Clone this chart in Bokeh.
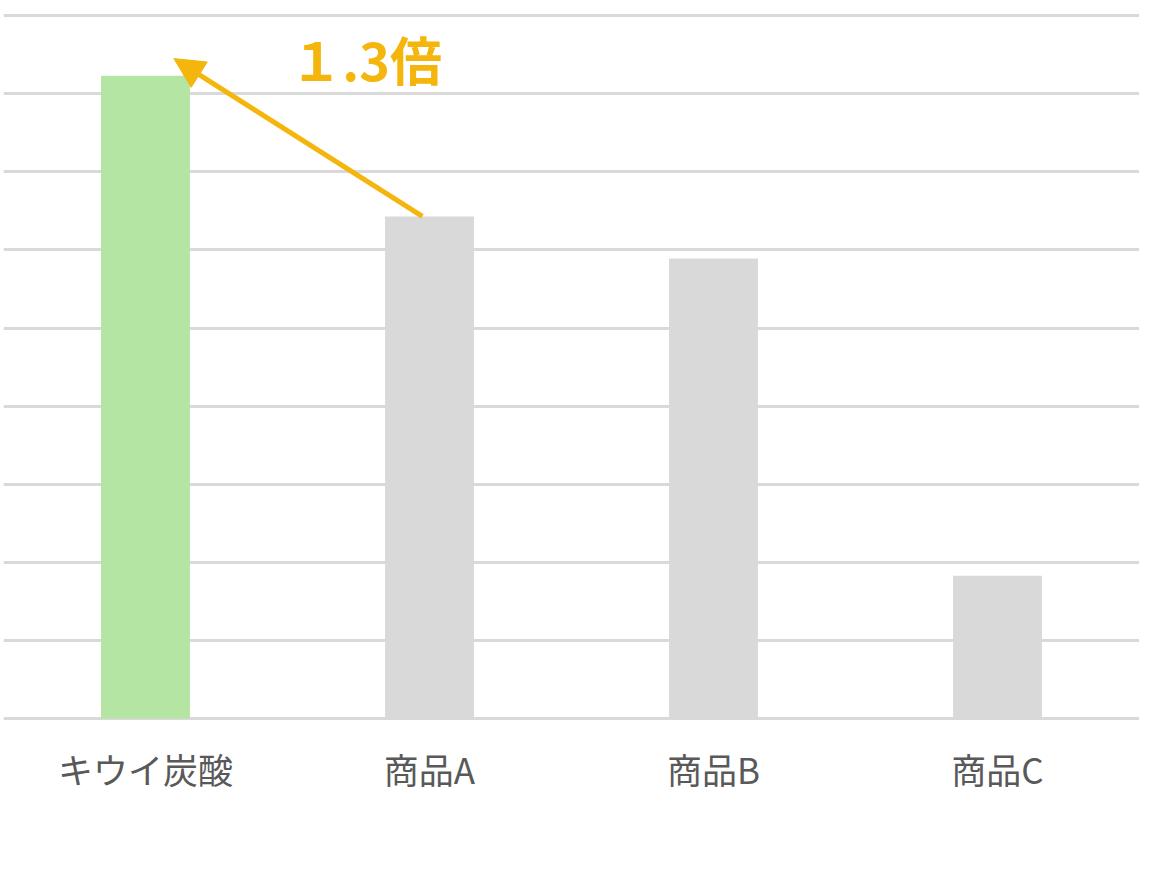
from bokeh.plotting import figure
from bokeh.models import Range1d, Label, Arrow, NormalHead
from bokeh.embed import file_html
from bokeh.resources import INLINE

categories = ["キウイ炭酸", "商品A", "商品B", "商品C"]
values = [8.23, 6.43, 5.89, 1.83]
colors = ["#B4E5A2", "#D9D9D9", "#D9D9D9", "#D9D9D9"]
ratio_label = "１.3倍"

p = figure(x_range=categories, y_range=Range1d(-0.05, 9.066),
           width=1139, height=858, output_backend="svg",
           toolbar_location=None, y_axis_location=None,
           min_border_left=3, min_border_right=0,
           min_border_top=10, min_border_bottom=136)

p.vbar(x=categories, top=values, width=0.313, color=colors, line_color=None)

p.outline_line_color = None
p.xgrid.grid_line_color = None
p.ygrid.grid_line_color = "#D9D9D9"
p.ygrid.grid_line_width = 3
p.ygrid.ticker = list(range(0, 10))

ax = p.xaxis[0]
ax.axis_line_color = None
ax.major_tick_line_color = None
ax.minor_tick_line_color = None
ax.major_tick_out = 0
ax.major_tick_in = 0
ax.major_label_standoff = 20
ax.major_label_text_font = "Noto Sans CJK JP"
ax.major_label_text_font_size = "35px"
ax.major_label_text_color = "#595959"

# arrow from top of 商品A to top of キウイ炭酸
p.add_layout(Arrow(end=NormalHead(size=30, fill_color="#F4B50C", line_color="#F4B50C"),
                   x_start=1.475, y_start=values[1], x_end=0.60, y_end=values[0] + 0.22,
                   line_color="#F4B50C", line_width=5))

p.add_layout(Label(x=1.01, y=8.45, text=ratio_label, text_font="Noto Sans CJK JP",
                   text_font_style="bold", text_font_size="52px",
                   text_color="#F4B50C", text_baseline="middle"))

open("out.html", "w").write(file_html(p, INLINE))
